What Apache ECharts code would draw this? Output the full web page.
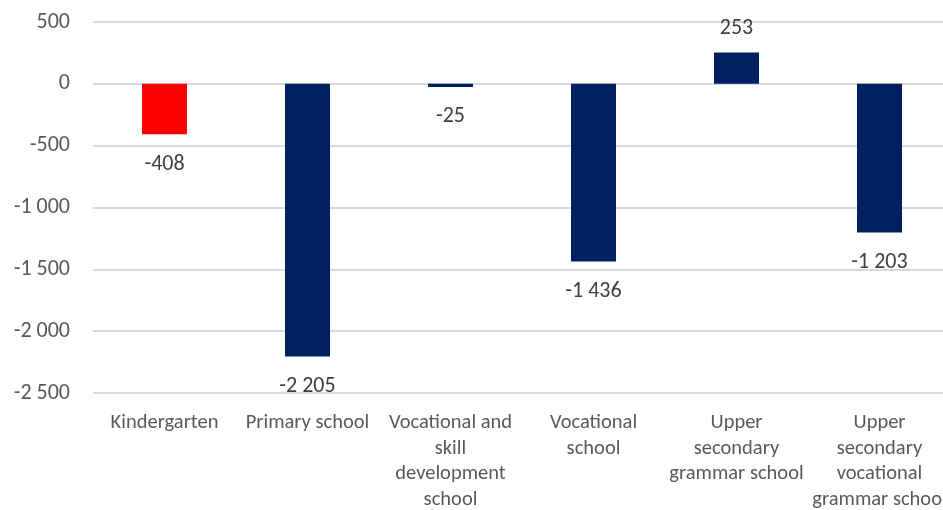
<!DOCTYPE html>
<html>
<head>
<meta charset="utf-8">
<script src="https://cdn.jsdelivr.net/npm/echarts@6/dist/echarts.min.js"></script>
<style>
  html, body { margin: 0; padding: 0; background: #ffffff; }
  #chart { width: 943px; height: 510px; }
</style>
</head>
<body>
<div id="chart"></div>
<script>
// School types (wrapped as they appear under the axis)
const categories = [
  'Kindergarten',
  'Primary school',
  'Vocational and\nskill\ndevelopment\nschool',
  'Vocational\nschool',
  'Upper\nsecondary\ngrammar school',
  'Upper\nsecondary\nvocational\ngrammar school'
];
// Change in number of pupils
const values = [-408, -2205, -25, -1436, 253, -1203];
const barColors = ['#ff0000', '#002060', '#002060', '#002060', '#002060', '#002060'];
// Value axis
const yMin = -2500;
const yMax = 500;
const yStep = 500;

const FONT = 'Carlito, Lato, sans-serif';

// Thousands separated by a space, e.g. -2 205
function fmt(v) {
  const s = Math.abs(v).toString().replace(/\B(?=(\d{3})+(?!\d))/g, ' ');
  return (v < 0 ? '-' : '') + s;
}

const chart = echarts.init(document.getElementById('chart'), null, { renderer: 'canvas' });

// The plot runs slightly past the right edge of the canvas
chart.setOption({
  animation: false,
  grid: {
    left: 93, width: 858, top: 22, height: 371,
    containLabel: false,
    outerBoundsMode: 'none'
  },
  xAxis: {
    type: 'category',
    data: categories,
    axisLine: { show: false },
    axisTick: { show: false },
    axisLabel: {
      interval: 0,
      margin: 17,
      color: '#595959',
      fontFamily: FONT,
      fontSize: 20.5,
      lineHeight: 25.7,
      align: 'center'
    }
  },
  yAxis: {
    type: 'value',
    min: yMin,
    max: yMax,
    interval: yStep,
    axisLine: { show: false },
    axisTick: { show: false },
    splitLine: { lineStyle: { color: '#d9d9d9', width: 2 } },
    axisLabel: {
      margin: 23,
      color: '#595959',
      fontFamily: FONT,
      fontSize: 22,
      padding: [3, 0, 0, 0],
      formatter: fmt
    }
  },
  series: [{
    type: 'bar',
    barWidth: 45,
    data: values.map((v, i) => ({
      value: v,
      itemStyle: { color: barColors[i] },
      label: v < 0 ? { position: 'bottom', distance: 17 } : { position: 'top', distance: 11 }
    })),
    label: {
      show: true,
      color: '#404040',
      fontFamily: FONT,
      fontSize: 22,
      lineHeight: 26,
      formatter: p => fmt(p.value)
    }
  }]
});
</script>
</body>
</html>
